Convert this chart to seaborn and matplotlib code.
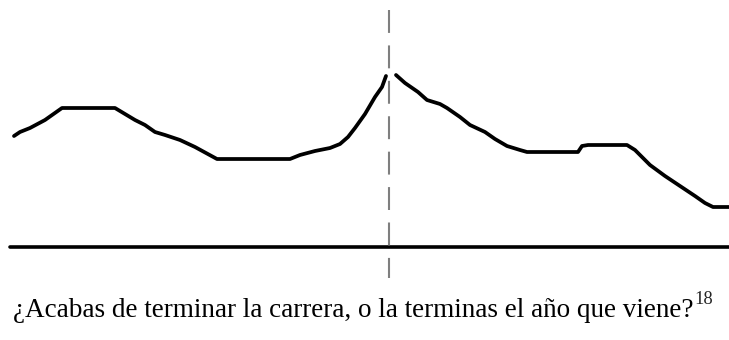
import numpy as np
import pandas as pd
import matplotlib
matplotlib.use("Agg")
import matplotlib.pyplot as plt
import seaborn as sns

# --- contour data (x position, pitch height above the baseline) ---
seg1_x = [14, 20, 30, 45, 62, 115, 125, 135, 145, 155, 165, 180, 195, 217, 290,
          300, 315, 330, 340, 348, 355, 365, 375, 382, 386]
seg1_y = [111, 115, 119, 127, 139, 139, 133, 127, 122, 115, 112, 107, 100, 88, 88,
          92, 96, 99, 103, 110, 119, 133, 150, 160, 171]
seg2_x = [396, 405, 418, 427, 440, 447, 460, 470, 485, 495, 507, 520, 527, 578,
          582, 588, 627, 635, 650, 665, 680, 695, 705, 713, 729]
seg2_y = [172, 164, 155, 147, 143, 139, 130, 122, 115, 108, 101, 97, 95, 95,
          101, 102, 102, 97, 82, 71, 61, 51, 44, 40, 40]
boundary_x = 389
caption = "¿Acabas de terminar la carrera, o la terminas el año que viene?"
note = "18"

df = pd.DataFrame({
    "x": seg1_x + seg2_x,
    "y": seg1_y + seg2_y,
    "seg": [1] * len(seg1_x) + [2] * len(seg2_x),
})

sns.set_theme(style="white")
plt.rcParams['font.family'] = ['Liberation Serif', 'DejaVu Serif']

fig = plt.figure(figsize=(7.29, 3.40), dpi=100)
ax = fig.add_axes([0, 0, 1, 1])

sns.lineplot(data=df, x="x", y="y", units="seg", estimator=None, sort=False,
             color="black", linewidth=2.7, ax=ax)

# baseline and boundary marker
ax.axhline(0, xmin=10 / 729, xmax=1, color="black", linewidth=2.6)
ax.plot([boundary_x, boundary_x], [237, -31], color="#7f7f7f", linewidth=1.5,
        dashes=(11, 6))

ax.set_xlim(0, 729)
ax.set_ylim(-93, 247)
ax.axis("off")

# caption, sized to the reference width
txt = fig.text(13 / 729, (340 - 317) / 340, caption, fontsize=16,
               ha="left", va="baseline", color="black")
fig.canvas.draw()
r = fig.canvas.get_renderer()
w = txt.get_window_extent(r).width
txt.set_fontsize(16 * 682 / w)
fig.canvas.draw()
bb = txt.get_window_extent(r)
fig.text((bb.x1 + 1) / 729, (340 - 304) / 340, note,
         fontsize=txt.get_fontsize() * 0.68, ha="left", va="baseline")

fig.savefig("out.png", dpi=100)
